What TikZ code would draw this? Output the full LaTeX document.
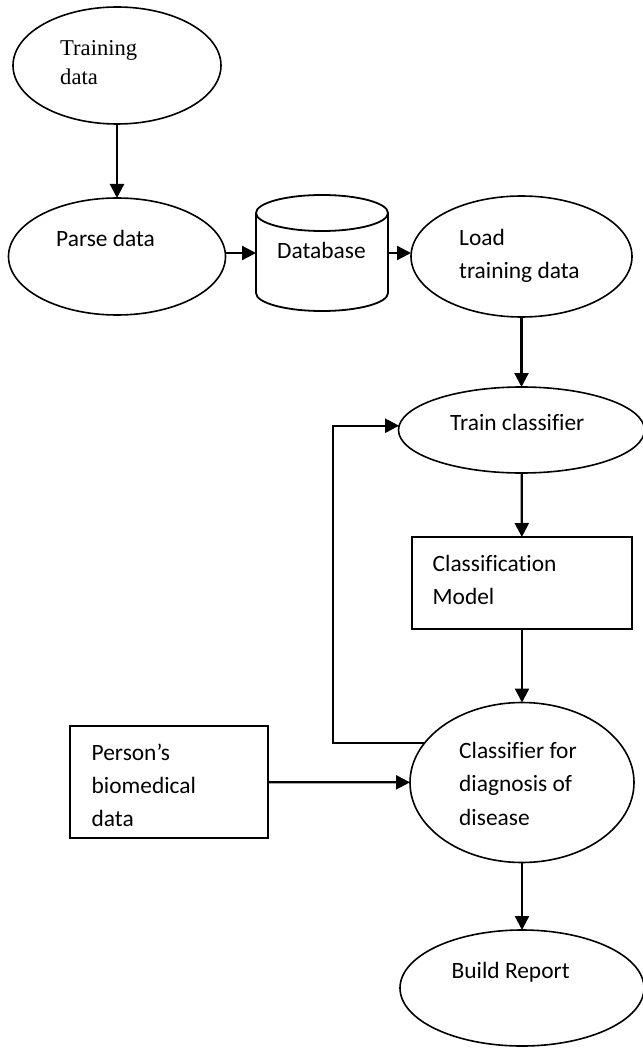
\documentclass[tikz,border=0pt]{standalone}
\usepackage{fontspec}
\setmainfont{Carlito}[Ligatures=NoCommon]
\newfontfamily\serifface{Liberation Serif}
\usetikzlibrary{shapes.geometric,arrows.meta}

\tikzset{
  oval/.style={ellipse, draw, line width=1.6pt, inner sep=0pt, outer sep=0pt},
  box/.style={rectangle, draw, line width=2.2pt, inner sep=0pt, outer sep=0pt},
  ghost/.style={rectangle, inner sep=0pt, outer sep=0pt},
  lbl/.style={anchor=base west, inner sep=0pt,
              font=\fontsize{23.4}{33}\selectfont},
  serlbl/.style={anchor=base west, inner sep=0pt,
              font=\serifface\fontsize{22.6}{29}\selectfont},
  arr/.style={line width=2.3pt, -{Triangle[length=14pt,width=14pt]}},
  cyl/.style={line width=1.8pt, line join=round}
}

\begin{document}
\begin{tikzpicture}[x=1pt,y=-1pt]
\useasboundingbox (0,0) rectangle (642,1048);
\fill[white] (0,0) rectangle (642,1048);

% ---- shapes ----
\node[oval, minimum width=208pt, minimum height=117pt] (td)    at (117,65.5) {};
\node[oval, minimum width=217pt, minimum height=117pt] (parse) at (117,256.5) {};
\node[ghost, minimum width=132pt, minimum height=116pt] (db)   at (322,253) {};
\node[oval, minimum width=221pt, minimum height=121pt] (load)  at (521.5,256.5) {};
\node[oval, minimum width=246pt, minimum height=86pt]  (train) at (521.5,430) {};
\node[box,  minimum width=220pt, minimum height=92pt]  (model) at (522,583) {};
\node[box,  minimum width=198pt, minimum height=112pt] (person) at (169,782) {};
\node[oval, minimum width=224pt, minimum height=160pt] (clf)   at (522,782.5) {};
\node[oval, minimum width=244pt, minimum height=116pt] (rep)   at (522,988) {};

% database drum
\draw[cyl] (256,213) -- (256,293)
  arc[start angle=180, end angle=0, x radius=66, y radius=18] -- (388,213);
\draw[cyl] (322,213) ellipse [x radius=66, y radius=18];

% ---- labels, one node per printed line ----
\node[serlbl] (tdtxta) at (60,56) {Training};
\node[serlbl] (tdtxtb) at (60,85) {data};
\node[lbl] (parsetxt) at (56,247) {Parse data};
\node[lbl] (dbtxt) at (277,259) {Database};
\node[lbl] (loadtxta) at (459,246) {Load};
\node[lbl] (loadtxtb) at (459,279) {training data};
\node[lbl] (traintxt) at (450,430) {Train classifier};
\node[lbl] (modeltxta) at (432.5,571) {Classification};
\node[lbl] (modeltxtb) at (432.5,604) {Model};
\node[lbl] (persontxta) at (91.5,760) {Person’s};
\node[lbl] (persontxtb) at (91.5,793) {biomedical};
\node[lbl] (persontxtc) at (91.5,826) {data};
\node[lbl] (clftxta) at (459,758) {Classifier for};
\node[lbl] (clftxtb) at (459,791) {diagnosis of};
\node[lbl] (clftxtc) at (459,825) {disease};
\node[lbl] (reptxt) at (451.5,978) {Build Report};

% ---- connectors ----
\coordinate (fbx) at (333,0);
\draw[arr] (td) -- (parse);
\draw[arr] (db.west -| parse.east) -- (db.west);
\draw[arr] (db.east) -- (db.east -| load.west);
\draw[arr] (load) -- (train);
\draw[arr] (train) -- (model);
\draw[arr] (model) -- (clf);
\draw[arr] (person) -- (clf);
\draw[arr] (clf) -- (rep);
\draw[arr] (clf.158) -- (clf.158 -| fbx) -- (train.178 -| fbx) -- (train.178);
\end{tikzpicture}
\end{document}
